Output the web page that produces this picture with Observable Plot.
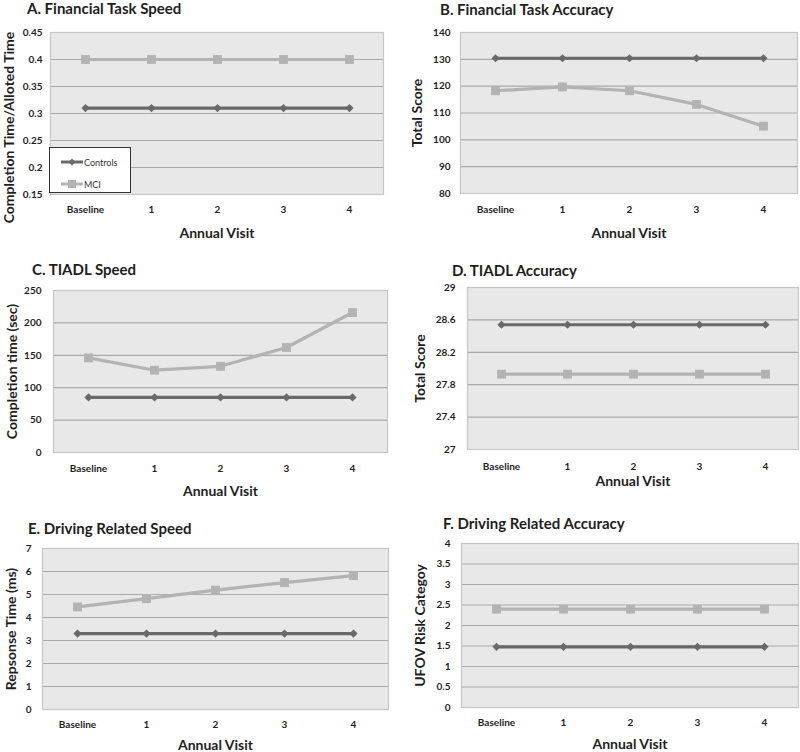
<!DOCTYPE html>
<html><head><meta charset="utf-8">
<script src="https://cdn.jsdelivr.net/npm/d3@7"></script>
<script src="https://cdn.jsdelivr.net/npm/@observablehq/plot@0.6"></script>
<style>
body{margin:0;background:#fff;}
#chart{position:relative;width:800px;height:752px;overflow:hidden;font-family:Lato,"Open Sans",sans-serif;background:#fff;}
.title{position:absolute;font-weight:bold;font-size:15px;color:#1e1e1e;white-space:nowrap;line-height:1;}
.panel{position:absolute;}
.panel svg{overflow:visible;background:none !important;}
.panel [aria-label="x-axis label"] text{font-size:14px;font-weight:bold;fill:#1e1e1e;}
.panel [aria-label="y-axis tick label"] text,.panel [aria-label="x-axis tick label"] text{font-size:10px;font-weight:bold;fill:#1e1e1e;}
.legend{position:absolute;background:#fff;border:1px solid #333;box-sizing:border-box;font-size:9px;color:#333;}
.legend .row{position:absolute;left:10px;height:12px;display:flex;align-items:center;}
.legend svg{display:block;}
</style>
</head><body>
<div id="chart"></div>
<script>
// ---- data ----
const visits = ["Baseline", "1", "2", "3", "4"];
const seriesNames = ["Controls", "MCI"];

const titleA = "A. Financial Task Speed";
const ylabelA = "Completion Time/Alloted Time";
const controlsA = [0.31, 0.31, 0.31, 0.31, 0.31];
const mciA = [0.40, 0.40, 0.40, 0.40, 0.40];
const ticksA = [0.15, 0.2, 0.25, 0.3, 0.35, 0.4, 0.45];

const titleB = "B. Financial Task Accuracy";
const ylabelB = "Total Score";
const controlsB = [130.4, 130.4, 130.4, 130.4, 130.4];
const mciB = [118.3, 119.7, 118.3, 113.2, 105.1];
const ticksB = [80, 90, 100, 110, 120, 130, 140];

const titleC = "C. TIADL Speed";
const ylabelC = "Completion time (sec)";
const controlsC = [85, 85, 85, 85, 85];
const mciC = [146, 127, 133, 162, 216];
const ticksC = [0, 50, 100, 150, 200, 250];

const titleD = "D. TIADL Accuracy";
const ylabelD = "Total Score";
const controlsD = [28.54, 28.54, 28.54, 28.54, 28.54];
const mciD = [27.93, 27.93, 27.93, 27.93, 27.93];
const ticksD = [27, 27.4, 27.8, 28.2, 28.6, 29];

const titleE = "E. Driving Related Speed";
const ylabelE = "Repsonse Time (ms)";
const controlsE = [3.3, 3.3, 3.3, 3.3, 3.3];
const mciE = [4.46, 4.82, 5.19, 5.52, 5.82];
const ticksE = [0, 1, 2, 3, 4, 5, 6, 7];

const titleF = "F. Driving Related Accuracy";
const ylabelF = "UFOV Risk Categoy";
const controlsF = [1.48, 1.48, 1.48, 1.48, 1.48];
const mciF = [2.4, 2.4, 2.4, 2.4, 2.4];
const ticksF = [0, 0.5, 1, 1.5, 2, 2.5, 3, 3.5, 4];

const xlabel = "Annual Visit";

// ---- styles ----
const colControls = "#696969";
const colMCI = "#b3b3b3";
const bgFill = "#e8e8e8";
const gridCol = "#a9a9a9";

const chart = document.getElementById("chart");

function rows(controls, mci) {
  return [
    ...visits.map((v, i) => ({visit: v, value: controls[i], series: "Controls"})),
    ...visits.map((v, i) => ({visit: v, value: mci[i], series: "MCI"}))
  ];
}

function panel(cfg) {
  const {x0, top, height, frame: [l, t, r, b], ticks, controls, mci, ylabel, yOff, yShift = 0, xOff, xPad, yPad, title, tx, ty} = cfg;
  const data = rows(controls, mci);
  const width = 400;
  const svg = Plot.plot({
    width, height,
    marginLeft: l - x0, marginRight: x0 + width - r,
    marginTop: t - top, marginBottom: top + height - b,
    style: {fontFamily: "Lato, 'Open Sans', sans-serif", background: "none"},
    x: {type: "point", domain: visits, padding: 0.5},
    y: {domain: [ticks[0], ticks[ticks.length - 1]]},
    color: {domain: seriesNames, range: [colControls, colMCI]},
    marks: [
      Plot.frame({fill: bgFill, stroke: "none"}),
      Plot.gridY(ticks, {stroke: gridCol, strokeOpacity: 1, strokeWidth: 1.2}),
      Plot.frame({stroke: "#c6c6c6", strokeWidth: 1.2}),
      Plot.axisY(ticks, {tickSize: 0, tickPadding: yPad, tickFormat: d => String(d), label: null}),
      Plot.text([ylabel], {text: d => d, frameAnchor: "left", rotate: -90, lineAnchor: "top", textAnchor: "middle",
        dx: -yOff, dy: yShift, fontSize: 14, fontWeight: "bold", fill: "#1e1e1e"}),
      Plot.axisX({tickSize: 0, tickPadding: xPad,
        label: xlabel, labelAnchor: "center", labelOffset: xOff, labelArrow: "none"}),
      Plot.line(data, {x: "visit", y: "value", z: "series", stroke: "series", strokeWidth: 3.2}),
      Plot.dot(data.filter(d => d.series === "Controls"), {x: "visit", y: "value", symbol: "diamond2", r: 3.7, fill: colControls}),
      Plot.dot(data.filter(d => d.series === "MCI"), {x: "visit", y: "value", symbol: "square", r: 5, fill: colMCI})
    ]
  });
  const div = document.createElement("div");
  div.className = "panel";
  div.style.left = x0 + "px";
  div.style.top = top + "px";
  div.appendChild(svg);
  chart.appendChild(div);

  const tdiv = document.createElement("div");
  tdiv.className = "title";
  tdiv.textContent = title;
  tdiv.style.left = tx + "px";
  tdiv.style.top = ty + "px";
  chart.appendChild(tdiv);
}

panel({x0: 0, top: 20, height: 230, frame: [50, 32, 383, 194], ticks: ticksA, controls: controlsA, mci: mciA,
  ylabel: ylabelA, yOff: 46, yShift: 14, xOff: 43, xPad: 11, yPad: 8, title: titleA, tx: 27, ty: 1});
panel({x0: 400, top: 20, height: 230, frame: [460, 32, 797, 193], ticks: ticksB, controls: controlsB, mci: mciB,
  ylabel: ylabelB, yOff: 48, xOff: 44, xPad: 12, yPad: 10, title: titleB, tx: 440, ty: 2});
panel({x0: 0, top: 278, height: 222, frame: [53, 290, 387, 452], ticks: ticksC, controls: controlsC, mci: mciC,
  ylabel: ylabelC, yOff: 46, xOff: 43, xPad: 12, yPad: 12, title: titleC, tx: 32, ty: 262});
panel({x0: 400, top: 275, height: 225, frame: [467, 287, 798, 449], ticks: ticksD, controls: controlsD, mci: mciD,
  ylabel: ylabelD, yOff: 52, xOff: 36, xPad: 13, yPad: 12, title: titleD, tx: 452, ty: 263});
panel({x0: 0, top: 536, height: 216, frame: [42, 548, 388, 709], ticks: ticksE, controls: controlsE, mci: mciE,
  ylabel: ylabelE, yOff: 36, xOff: 40, xPad: 11, yPad: 11, title: titleE, tx: 28, ty: 521});
panel({x0: 400, top: 531, height: 221, frame: [461, 543, 798, 707], ticks: ticksF, controls: controlsF, mci: mciF,
  ylabel: ylabelF, yOff: 46, xOff: 41, xPad: 11, yPad: 11, title: titleF, tx: 443, ty: 516});

// ---- legend (panel A) ----
const legend = document.createElement("div");
legend.className = "legend";
Object.assign(legend.style, {left: "49px", top: "147px", width: "82px", height: "46px"});
const legendItems = [
  {name: seriesNames[0], color: colControls, sym: "diamond", top: 8},
  {name: seriesNames[1], color: colMCI, sym: "square", top: 30}
];
for (const it of legendItems) {
  const row = document.createElement("div");
  row.className = "row";
  row.style.top = it.top + "px";
  const ns = "http://www.w3.org/2000/svg";
  const s = document.createElementNS(ns, "svg");
  s.setAttribute("width", 24); s.setAttribute("height", 12);
  const ln = document.createElementNS(ns, "line");
  ln.setAttribute("x1", 1); ln.setAttribute("x2", 23); ln.setAttribute("y1", 6); ln.setAttribute("y2", 6);
  ln.setAttribute("stroke", it.color); ln.setAttribute("stroke-width", 3);
  s.appendChild(ln);
  const p = document.createElementNS(ns, "path");
  p.setAttribute("d", it.sym === "diamond" ? "M12,2.5L15.5,6L12,9.5L8.5,6Z" : "M8,2H16V10H8Z");
  p.setAttribute("fill", it.color);
  s.appendChild(p);
  row.appendChild(s);
  const t = document.createElement("span");
  t.textContent = it.name;
  row.appendChild(t);
  legend.appendChild(row);
}
chart.appendChild(legend);
</script>
</body></html>
